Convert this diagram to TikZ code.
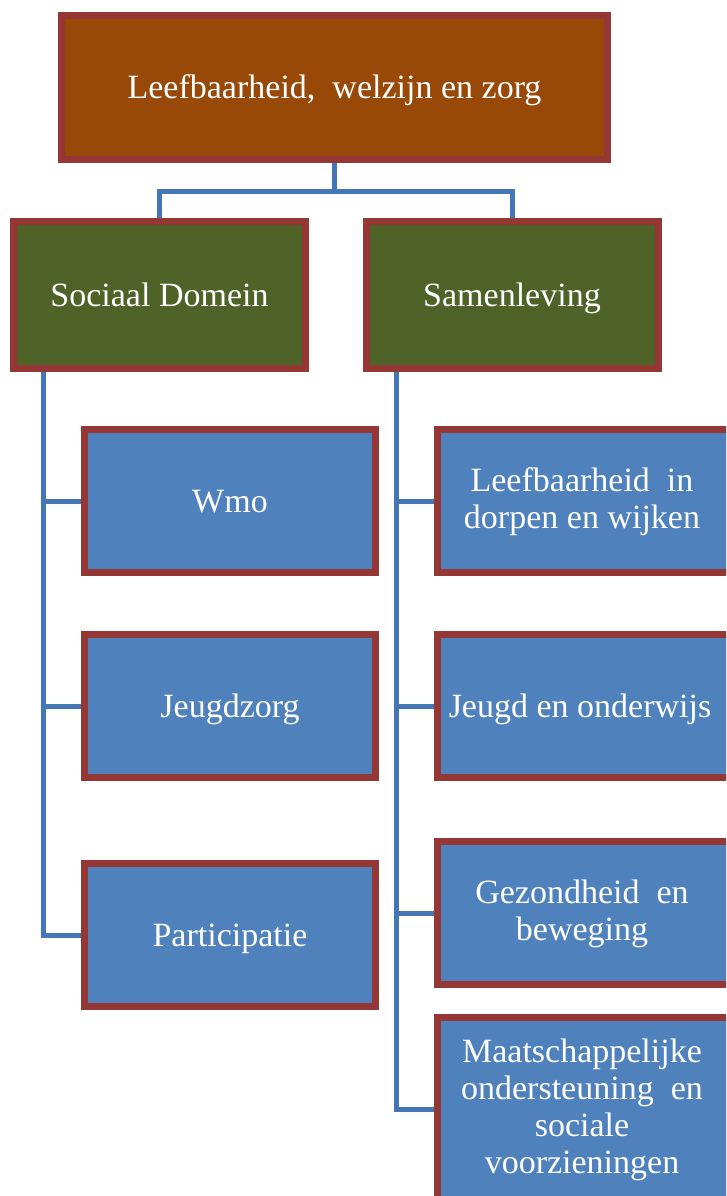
\documentclass[tikz,border=0pt]{standalone}
\usepackage{fontspec}
\setmainfont{Liberation Serif}
\usetikzlibrary{shadows}
\definecolor{bordred}{HTML}{953735}
\definecolor{topfill}{HTML}{984807}
\definecolor{greenfill}{HTML}{4F6228}
\definecolor{bluefill}{HTML}{4F81BD}
\definecolor{connblue}{HTML}{4576B5}
\tikzset{
  box/.style={rectangle, draw=bordred, line width=7pt, text=white,
    align=center, inner sep=0pt,
    font=\fontsize{34}{37}\selectfont,
    drop shadow={shadow xshift=1.5pt, shadow yshift=-2.5pt, opacity=0.3, fill=black}},
  oneline/.style={text height=22pt, text depth=0pt},
  topbox/.style={box, oneline, fill=topfill, minimum width=546pt, minimum height=144pt},
  greenbox/.style={box, oneline, fill=greenfill, minimum width=292pt, minimum height=147pt},
  leftbox/.style={box, oneline, fill=bluefill, minimum width=291pt, minimum height=143pt},
  rightbox/.style={box, fill=bluefill, minimum width=400pt, minimum height=143pt},
  boxtext/.style={text=white, align=center, inner sep=0pt,
    font=\fontsize{34}{37}\selectfont},
  conn/.style={draw=connblue, line width=5pt}
}
\begin{document}
\begin{tikzpicture}[x=1pt, y=-1pt]
\useasboundingbox (0,0) rectangle (726,1196);
\clip (0,0) rectangle (726,1196);

\node[topbox] (top) at (334.5,87.5) {Leefbaarheid,\ \ welzijn en zorg};
\node[greenbox] (g1) at (159.5,295) {Sociaal Domein};
\node[greenbox] (g2) at (512,295) {Samenleving};

\node[leftbox] (wmo) at (230,501) {Wmo};
\node[leftbox] (jz) at (230,706) {Jeugdzorg};
\node[leftbox] (part) at (230,935) {Participatie};

\node[rightbox] (leef) at (637.5,501) {};
\node[rightbox] (jeugd) at (637.5,706) {};
\node[rightbox] (gez) at (637.5,913) {};
\node[rightbox, minimum height=183pt] (maat) at (637.5,1109) {};

\node[boxtext] (leeft) at (582,502) {Leefbaarheid\ \ in\\dorpen en wijken};
\node[boxtext, oneline] (jeugdt) at (580,706) {Jeugd en onderwijs};
\node[boxtext] (gezt) at (582,914) {Gezondheid\ \ en\\beweging};
\node[boxtext] (maatt) at (582,1110) {Maatschappelijke\\ondersteuning\ \ en\\sociale\\voorzieningen};

\coordinate (tb) at ([yshift=-28.5pt]top.south);
\draw[conn] (top.south) -- (tb) -| (g1.north);
\draw[conn] (tb) -| (g2.north);

\coordinate (L) at ([xshift=-116.5pt]g1.south);
\draw[conn] (L) |- (wmo.west);
\draw[conn] (L) |- (jz.west);
\draw[conn] (L) |- (part.west);

\coordinate (R) at ([xshift=-116pt]g2.south);
\draw[conn] (R) |- (leef.west);
\draw[conn] (R) |- (jeugd.west);
\draw[conn] (R) |- (gez.west);
\draw[conn] (R) |- (maat.west);
\end{tikzpicture}
\end{document}
